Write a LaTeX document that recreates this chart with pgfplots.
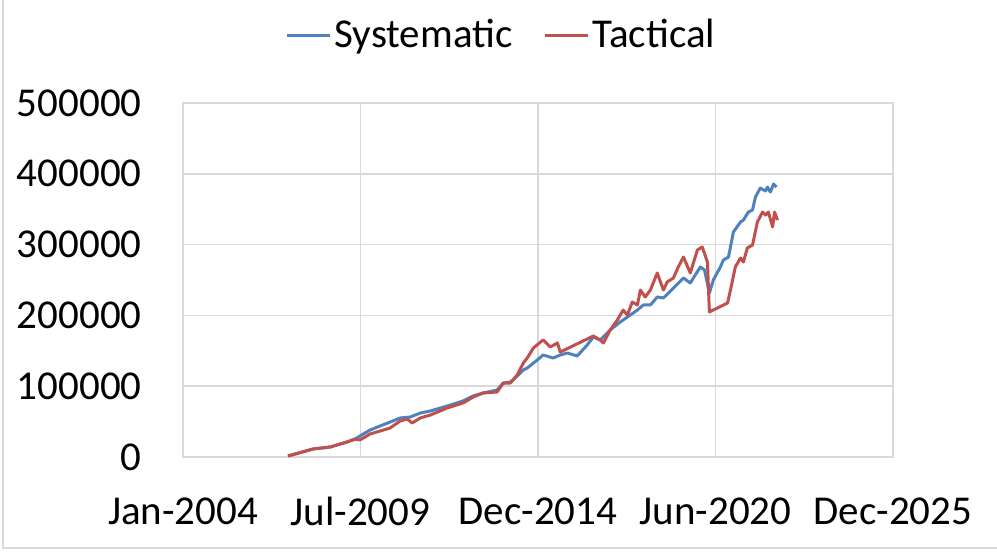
\documentclass[border=0pt]{standalone}
\usepackage{pgfplots}
\pgfplotsset{compat=1.18}
\usepackage{fontspec}
\setmainfont{Carlito}
\definecolor{sysblue}{HTML}{4F81BD}
\definecolor{tacred}{HTML}{C0504D}
\definecolor{gridgray}{HTML}{D9D9D9}
\begin{document}
\begin{tikzpicture}
\path[use as bounding box] (-91.5pt,-47.5pt) rectangle (407pt,228.5pt);
\draw[gridgray, line width=0.6pt] (-90pt,228.5pt) -- (-90pt,-45.5pt) -- (407pt,-45.5pt);
\begin{axis}[
  at={(0,0)}, anchor=south west,
  scale only axis,
  width=355pt, height=177pt,
  xmin=2004, xmax=2025.904,
  ymin=0, ymax=500000,
  xtick={2004,2009.476,2014.952,2020.428,2025.904},
  xticklabels={Jan-2004,Jul-2009,Dec-2014,Jun-2020,Dec-2025},
  ytick={0,100000,200000,300000,400000,500000},
  yticklabels={0,100000,200000,300000,400000,500000},
  scaled y ticks=false,
  major tick length=0pt,
  grid=major,
  major grid style={gridgray, line width=0.75pt},
  axis line style={gridgray, line width=0.75pt},
  tick label style={font=\fontsize{20.5}{24}\selectfont, text=black},
  yticklabel style={anchor=east, inner sep=0pt, xshift=-20.5pt},
  xticklabel style={anchor=north, inner sep=0pt, yshift=-20pt},
  legend columns=2,
  legend style={at={(0.449,1.192)}, anchor=center, draw=none, fill=none,
    font=\fontsize{20.5}{24}\selectfont,
    /tikz/every even column/.append style={column sep=14pt},
    nodes={inner sep=1.5pt}},
  legend image code/.code={\draw[#1] (0pt,0pt) -- (21.5pt,0pt);},
  every axis plot/.append style={line width=1.5pt, line join=round},
]
\addplot[sysblue] coordinates {
(2007.24,1400) (2008.01,11300) (2008.54,14100) (2009.06,21200) (2009.31,25400)
(2009.46,29700) (2009.77,38100) (2010.08,43800) (2010.39,49400) (2010.70,55100)
(2011.01,56500) (2011.32,62100) (2011.63,65000) (2012.15,72000) (2012.64,79100)
(2012.95,86200) (2013.26,90400) (2013.69,94600) (2013.88,104500) (2014.10,105900)
(2014.31,114400) (2014.50,122900) (2014.62,125700) (2014.93,137000) (2015.11,144100)
(2015.42,139800) (2015.64,144100) (2015.86,146900) (2016.16,142700) (2016.47,158200)
(2016.66,169500) (2016.87,165300) (2017.18,179400) (2017.49,190700) (2017.80,200600)
(2018.02,207600) (2018.20,214700) (2018.42,214700) (2018.63,226000) (2018.82,224600)
(2019.13,238700) (2019.44,252800) (2019.65,245800) (2019.96,268400) (2020.09,264100)
(2020.24,231600) (2020.36,250000) (2020.58,268400) (2020.67,278200) (2020.83,282500)
(2020.98,317800) (2021.20,331900) (2021.29,334700) (2021.44,346000) (2021.57,348900)
(2021.66,367200) (2021.81,379900) (2021.97,375700) (2022.03,381300) (2022.12,374300)
(2022.22,385600) (2022.31,381300)
};
\addlegendentry{Systematic}
\addplot[tacred] coordinates {
(2007.24,1400) (2008.01,11300) (2008.54,14100) (2009.06,21200) (2009.31,25400)
(2009.46,24000) (2009.77,32500) (2010.08,36700) (2010.39,41000) (2010.70,50800)
(2010.92,53700) (2011.07,48000) (2011.32,55100) (2011.63,59300) (2012.15,69200)
(2012.64,76300) (2012.95,84700) (2013.26,90400) (2013.69,91800) (2013.88,104500)
(2014.10,104500) (2014.31,115800) (2014.50,132800) (2014.62,139800) (2014.81,154000)
(2015.11,165300) (2015.33,155400) (2015.55,161000) (2015.64,148300) (2016.66,170900)
(2016.87,165300) (2016.97,161000) (2017.18,179400) (2017.40,193500) (2017.58,207600)
(2017.71,200600) (2017.86,218900) (2018.02,214700) (2018.11,235900) (2018.26,226000)
(2018.42,235900) (2018.63,259900) (2018.82,235900) (2018.94,247200) (2019.13,252800)
(2019.28,268400) (2019.44,282500) (2019.65,259900) (2019.87,292400) (2020.02,296600)
(2020.18,275400) (2020.24,204800) (2020.36,207600) (2020.80,217500) (2020.89,235900)
(2021.04,268400) (2021.20,281100) (2021.29,275400) (2021.41,295200) (2021.57,299400)
(2021.72,331900) (2021.88,346000) (2021.97,341800) (2022.06,346000) (2022.19,324900)
(2022.25,346000) (2022.34,334700)
};
\addlegendentry{Tactical}
\end{axis}
\end{tikzpicture}
\end{document}
